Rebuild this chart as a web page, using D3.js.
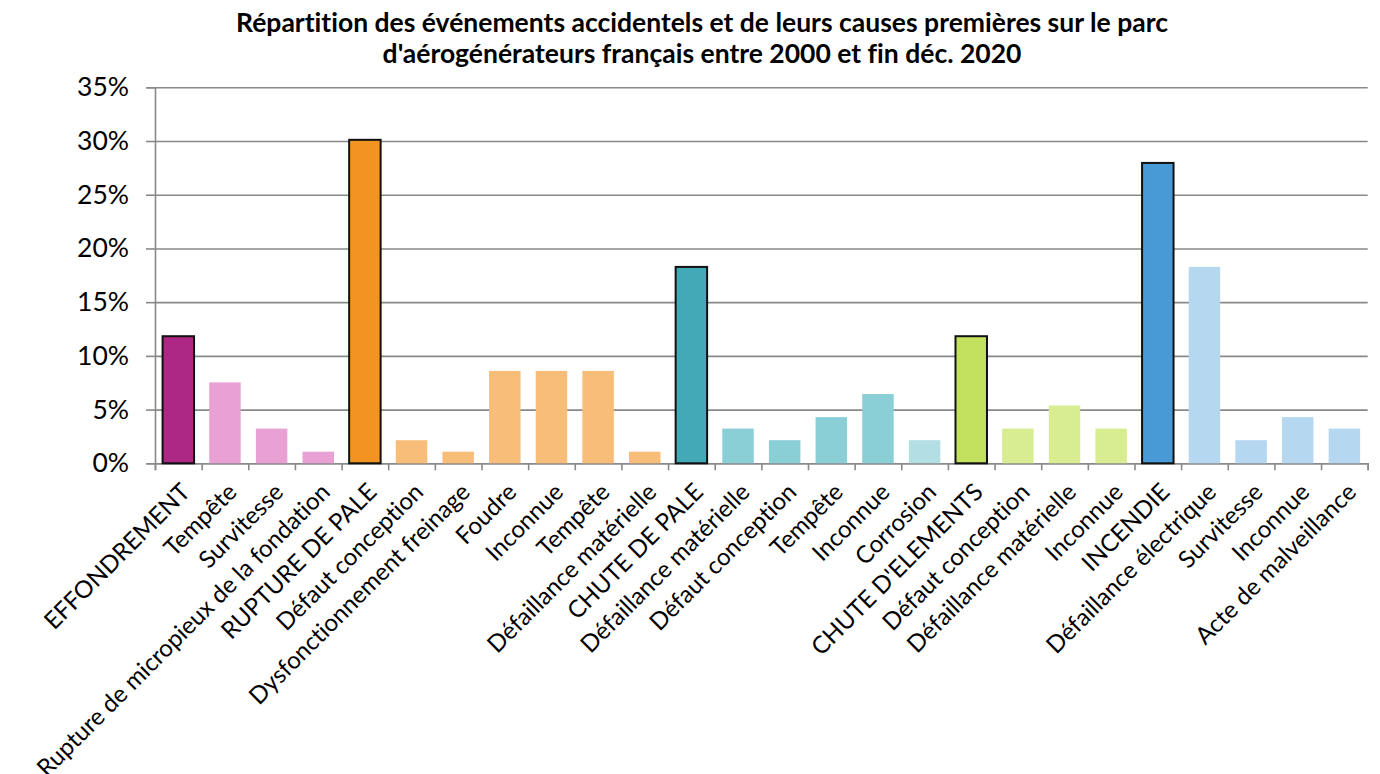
<!DOCTYPE html>
<html>
<head>
<meta charset="utf-8">
<script src="https://cdn.jsdelivr.net/npm/d3@7"></script>
<style>
  html, body { margin: 0; padding: 0; background: #fff; }
  svg { display: block; font-family: Lato, 'Noto Sans', sans-serif; font-variant-ligatures: none; }
</style>
</head>
<body>
<svg id="chart" width="1380" height="774"></svg>
<script>
const titleLines = [
  'Répartition des événements accidentels et de leurs causes premières sur le parc',
  "d'aérogénérateurs français entre 2000 et fin déc. 2020",
];

const categories = [
  'EFFONDREMENT', 'Tempête', 'Survitesse', 'Rupture de micropieux de la fondation',
  'RUPTURE DE PALE', 'Défaut conception', 'Dysfonctionnement freinage', 'Foudre', 'Inconnue', 'Tempête', 'Défaillance matérielle',
  'CHUTE DE PALE', 'Défaillance matérielle', 'Défaut conception', 'Tempête', 'Inconnue', 'Corrosion',
  "CHUTE D'ELEMENTS", 'Défaut conception', 'Défaillance matérielle', 'Inconnue',
  'INCENDIE', 'Défaillance électrique', 'Survitesse', 'Inconnue', 'Acte de malveillance',
];

// share of events (%)
const shares = [
  11.83, 7.53, 3.23, 1.08,
  30.11, 2.15, 1.08, 8.60, 8.60, 8.60, 1.08,
  18.28, 3.23, 2.15, 4.30, 6.45, 2.15,
  11.83, 3.23, 5.38, 3.23,
  27.96, 18.28, 2.15, 4.30, 3.23,
];

const families = [
  'EFFONDREMENT', 'EFFONDREMENT', 'EFFONDREMENT', 'EFFONDREMENT',
  'RUPTURE DE PALE', 'RUPTURE DE PALE', 'RUPTURE DE PALE', 'RUPTURE DE PALE', 'RUPTURE DE PALE', 'RUPTURE DE PALE', 'RUPTURE DE PALE',
  'CHUTE DE PALE', 'CHUTE DE PALE', 'CHUTE DE PALE', 'CHUTE DE PALE', 'CHUTE DE PALE', 'CHUTE DE PALE',
  "CHUTE D'ELEMENTS", "CHUTE D'ELEMENTS", "CHUTE D'ELEMENTS", "CHUTE D'ELEMENTS",
  'INCENDIE', 'INCENDIE', 'INCENDIE', 'INCENDIE', 'INCENDIE',
];

const yTicks = [0, 5, 10, 15, 20, 25, 30, 35];

// [main bar, cause bars]
const PALETTE = {
  'EFFONDREMENT': ['#AD2784', '#E9A0D4'],
  'RUPTURE DE PALE': ['#F39322', '#F8BD78'],
  'CHUTE DE PALE': ['#43A9B6', '#8ACED6'],
  "CHUTE D'ELEMENTS": ['#C3E15F', '#D8EC92'],
  'INCENDIE': ['#479AD5', '#B6D7F0'],
};

const FONT = "Lato, 'Noto Sans', sans-serif";
const m = { top: 87.3, right: 12.3, bottom: 310.7, left: 155 };
const width = 1380, height = 774;
const W = width - m.left - m.right;
const H = height - m.top - m.bottom;

const pts = shares.map((v, i) => ({
  i, v, label: categories[i], family: families[i],
  main: categories[i] === families[i],
}));

const x = d3.scaleBand().domain(d3.range(pts.length)).range([0, W]).paddingInner(0.325).paddingOuter(0.1625);
const xEdges = d3.scaleLinear().domain([0, pts.length]).range([0, W]);
const y = d3.scaleLinear().domain([0, 35]).range([H, 0]);

const svg = d3.select('#chart');
const g = svg.append('g').attr('transform', `translate(${m.left},${m.top})`);

svg.append('text').attr('text-anchor', 'middle').attr('font-weight', 700).attr('font-size', 26.5)
  .attr('fill', '#000')
  .selectAll('tspan').data(titleLines).join('tspan')
  .attr('x', 702).attr('y', (d, i) => 32 + i * 31).text(d => d);

// grid
g.append('g').call(d3.axisLeft(y).tickValues(yTicks).tickSize(-W).tickFormat(''))
  .call(a => a.select('.domain').remove())
  .call(a => a.selectAll('.tick line').attr('stroke', '#898989').attr('stroke-width', 1.6));

// y axis
g.append('g').call(d3.axisLeft(y).tickValues(yTicks).tickSize(9).tickPadding(17).tickFormat(d => d + '%'))
  .call(styled)
  .call(a => a.attr('font-family', FONT).selectAll('text').attr('font-size', 26.5).attr('fill', '#000'));

// x axis (ticks between categories)
g.append('g').attr('transform', `translate(0,${H})`)
  .call(d3.axisBottom(xEdges).tickValues(d3.range(pts.length + 1)).tickSize(7).tickFormat(''))
  .call(styled);

const color = d => {
  const [dark, light] = PALETTE[d.family];
  if (d.main) return dark;
  if (d.label === 'Corrosion') return '#B3DFE4';
  return light;
};

g.selectAll('.bar').data(pts).join('rect').attr('class', 'bar')
  .attr('x', d => x(d.i))
  .attr('y', d => y(d.v))
  .attr('width', x.bandwidth())
  .attr('height', d => y(0) - y(d.v))
  .attr('fill', color)
  .attr('stroke', d => d.main ? '#111' : 'none')
  .attr('stroke-width', 2);

// category labels
g.append('g').selectAll('text').data(pts).join('text')
  .attr('transform', d => `translate(${x(d.i) + x.bandwidth() / 2 + 1},${H + 18}) rotate(-45)`)
  .attr('text-anchor', 'end').attr('dy', '0.72em')
  .attr('font-size', 24).attr('fill', '#000')
  .text(d => d.label);

function styled(a) {
  a.select('.domain').attr('stroke', '#898989').attr('stroke-width', 1.6);
  a.selectAll('.tick line').attr('stroke', '#898989').attr('stroke-width', 1.6);
}
</script>
</body>
</html>
